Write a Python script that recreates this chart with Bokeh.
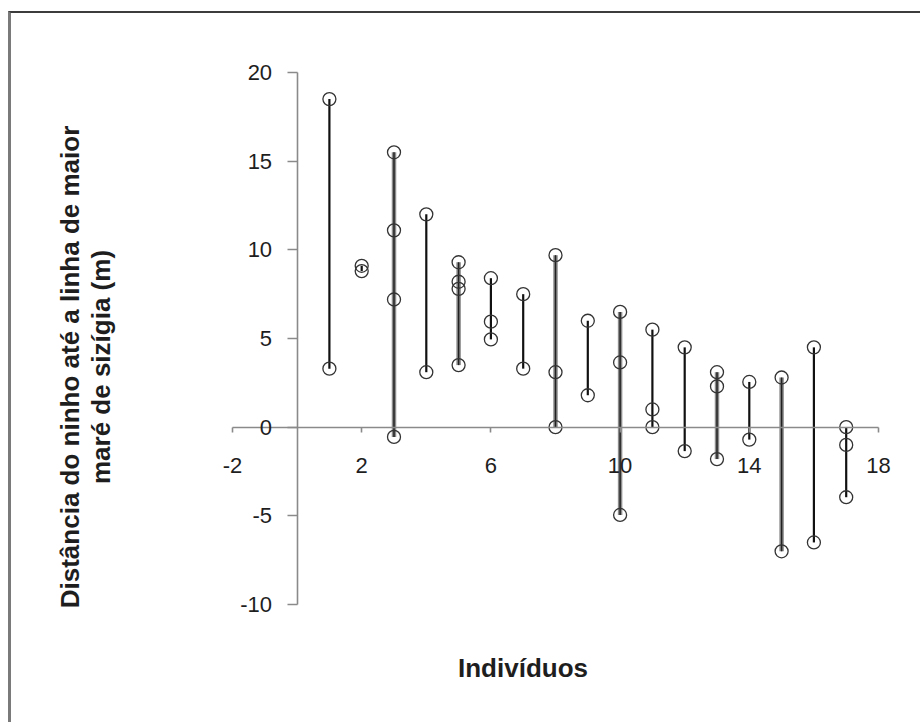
from bokeh.plotting import figure
from bokeh.models import (FixedTicker, Label, ColumnDataSource, LinearAxis,
                          PrintfTickFormatter)
from bokeh.embed import file_html
from bokeh.resources import INLINE
import math

# ---- data ----
individual = [1, 1,
              2, 2,
              3, 3, 3, 3,
              4, 4,
              5, 5, 5, 5,
              6, 6, 6,
              7, 7,
              8, 8, 8,
              9, 9,
              10, 10, 10,
              11, 11, 11,
              12, 12,
              13, 13, 13,
              14, 14,
              15, 15,
              16, 16,
              17, 17, 17]
distance = [18.5, 3.3,
            9.1, 8.8,
            15.5, 11.1, 7.2, -0.55,
            12.0, 3.1,
            9.3, 8.2, 7.8, 3.5,
            8.4, 5.95, 4.95,
            7.5, 3.3,
            9.7, 3.1, 0.0,
            6.0, 1.8,
            6.5, 3.65, -4.95,
            5.5, 1.0, 0.0,
            4.5, -1.35,
            3.1, 2.3, -1.8,
            2.55, -0.7,
            2.8, -7.0,
            4.5, -6.5,
            0.0, -1.0, -3.95]
x_ticks = [-2, 2, 6, 10, 14, 18]
y_ticks = [-10, -5, 0, 5, 10, 15, 20]
x_axis_span = (-2, 18)
y_axis_span = (-10, 20)
x_title = "Indivíduos"
y_title_1 = "Distância do ninho até a linha de maior"
y_title_2 = "maré de sizígia (m)"

# individuals whose range line looks heavier in the reference (style only)
HEAVY = {3, 5, 8, 10, 13, 15}

# ---- page geometry (pixels) ----
CANVAS_X0, CANVAS_Y0 = 11, 13          # canvas origin on the page (after margin+border)
W, H = 912, 711
AX_LEFT, AX_RIGHT = 232, 878           # page x of x = -2 and x = 18
AX_TOP, AX_BOTTOM = 72, 604            # page y of y = 20 and y = -10

sx = (x_axis_span[1] - x_axis_span[0]) / (AX_RIGHT - AX_LEFT)
sy = (y_axis_span[1] - y_axis_span[0]) / (AX_BOTTOM - AX_TOP)
x_start = x_axis_span[0] - (AX_LEFT - CANVAS_X0) * sx
x_end = x_axis_span[1] + (CANVAS_X0 + W - AX_RIGHT) * sx
y_end = y_axis_span[1] + (AX_TOP - CANVAS_Y0) * sy
y_start = y_axis_span[0] - (CANVAS_Y0 + H - AX_BOTTOM) * sy


def px_to_x(px):
    return x_axis_span[0] + (px - AX_LEFT) * sx


def py_to_y(py):
    return y_axis_span[1] - (py - AX_TOP) * sy


# ---- derived range lines (min..max per individual) ----
ids = sorted(set(individual))
lo = [min(d for i, d in zip(individual, distance) if i == k) for k in ids]
hi = [max(d for i, d in zip(individual, distance) if i == k) for k in ids]
heavy_src = ColumnDataSource(dict(x=[k for k in ids if k in HEAVY],
                                  lo=[l for k, l in zip(ids, lo) if k in HEAVY],
                                  hi=[h for k, h in zip(ids, hi) if k in HEAVY]))
thin_src = ColumnDataSource(dict(x=[k for k in ids if k not in HEAVY],
                                 lo=[l for k, l in zip(ids, lo) if k not in HEAVY],
                                 hi=[h for k, h in zip(ids, hi) if k not in HEAVY]))

p = figure(width=W, height=H, x_range=(x_start, x_end), y_range=(y_start, y_end),
           output_backend="svg", toolbar_location=None,
           x_axis_location=None, y_axis_location=None,
           min_border=0,
           background_fill_color="white", border_fill_color="white",
           outline_line_color=None,
           styles={"margin-left": "8px", "margin-top": "11px",
                   "border-left": "3px solid #7a7a7a",
                   "border-top": "2px solid #3c3c3c"})
p.grid.visible = False

xaxis = LinearAxis(fixed_location=0, bounds=x_axis_span,
                   ticker=FixedTicker(ticks=x_ticks),
                   major_tick_out=5, major_label_standoff=26)
yaxis = LinearAxis(fixed_location=0, bounds=y_axis_span,
                   ticker=FixedTicker(ticks=y_ticks),
                   major_tick_out=10, major_label_standoff=15)
for ax in (xaxis, yaxis):
    ax.formatter = PrintfTickFormatter(format="%d")
    ax.axis_line_color = "#8a8a8a"
    ax.axis_line_width = 1.6
    ax.major_tick_line_color = "#8a8a8a"
    ax.major_tick_line_width = 1.6
    ax.minor_tick_line_color = None
    ax.major_tick_in = 0
    ax.major_label_text_font = "Liberation Sans"
    ax.major_label_text_font_size = "22px"
    ax.major_label_text_color = "#1e1e1e"
p.add_layout(xaxis, "below")
p.add_layout(yaxis, "left")

# range lines
p.segment(x0="x", y0="lo", x1="x", y1="hi", source=heavy_src,
          line_color="#8c8c8c", line_width=4.5)
p.segment(x0="x", y0="lo", x1="x", y1="hi", source=heavy_src,
          line_color="#222222", line_width=1.5)
p.segment(x0="x", y0="lo", x1="x", y1="hi", source=thin_src,
          line_color="#111111", line_width=2.2)

# observations
p.scatter(individual, distance, marker="circle", size=13,
          fill_color=None, line_color="#333333", line_width=1.3)

# axis titles
font = "Liberation Sans"
common = dict(text_font=font, text_font_style="bold", text_font_size="26px",
              text_color="#1e1e1e", text_align="center", text_baseline="alphabetic")
p.add_layout(Label(x=px_to_x(522.5), y=py_to_y(667), text=x_title, **common))
p.add_layout(Label(x=px_to_x(69), y=py_to_y(366.5), text=y_title_1,
                   angle=math.pi / 2, **common))
p.add_layout(Label(x=px_to_x(100), y=py_to_y(366.5), text=y_title_2,
                   angle=math.pi / 2, **common))

open("out.html", "w").write(file_html(p, INLINE))
